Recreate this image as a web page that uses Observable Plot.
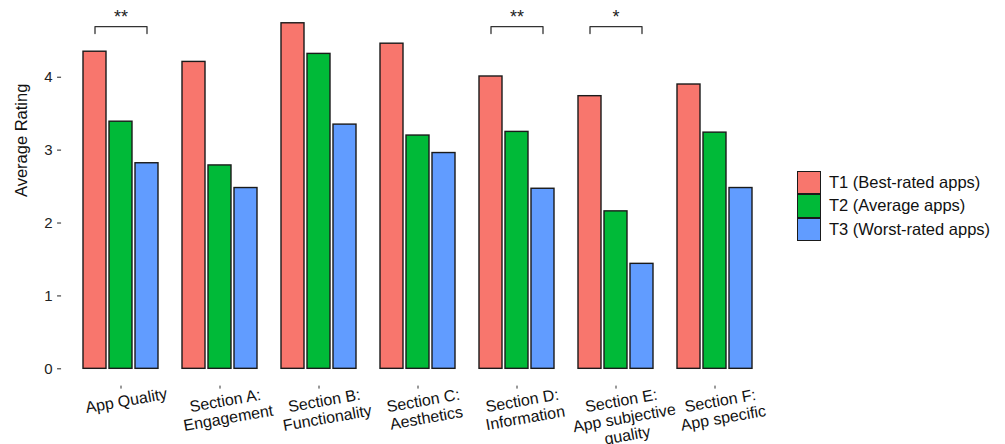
<!DOCTYPE html>
<html>
<head>
<meta charset="utf-8">
<script src="https://cdn.jsdelivr.net/npm/d3@7"></script>
<script src="https://cdn.jsdelivr.net/npm/@observablehq/plot@0.6"></script>
<style>
  body { margin: 0; background: #fff; font-family: "Liberation Sans", Arial, sans-serif; }
  #wrap { position: relative; width: 1005px; height: 444px; }
  #legend { position: absolute; left: 797px; top: 171px; }
  .row { display: flex; align-items: center; height: 23.3px; }
  .key { width: 23.5px; height: 23.3px; box-sizing: border-box; border: 1.4px solid #1a1a1a; }
  .lab { margin-left: 8.5px; font-size: 16.5px; color: #111; white-space: nowrap; }
</style>
</head>
<body>
<div id="wrap"><div id="legend"></div></div>
<script>
// ---- data ----
const categories = ["App Quality", "Section A: Engagement", "Section B: Functionality", "Section C: Aesthetics", "Section D: Information", "Section E: App subjective quality", "Section F: App specific"];
const categoryLabels = ["App Quality", "Section A:\nEngagement", "Section B:\nFunctionality", "Section C:\nAesthetics", "Section D:\nInformation", "Section E:\nApp subjective\nquality", "Section F:\nApp specific"];
const tiers = ["T1", "T2", "T3"];
const tierNames = ["T1 (Best-rated apps)", "T2 (Average apps)", "T3 (Worst-rated apps)"];
const tierColors = ["#F8766D", "#00BA38", "#619CFF"];
const t1Values = [4.35, 4.21, 4.74, 4.46, 4.01, 3.74, 3.90];
const t2Values = [3.39, 2.79, 4.32, 3.20, 3.25, 2.16, 3.24];
const t3Values = [2.82, 2.48, 3.35, 2.96, 2.47, 1.44, 2.48];
const yTicks = [0, 1, 2, 3, 4];
const sigCategories = ["App Quality", "Section D: Information", "Section E: App subjective quality"];
const sigLabels = ["**", "**", "*"];
const bracketTop = 4.695;
const bracketTip = 4.60;
const starLevel = 4.82;
const yTitle = "Average Rating";

// ---- tables ----
const seriesValues = [t1Values, t2Values, t3Values];
const bars = [];
categories.forEach((c, i) => tiers.forEach((t, j) => bars.push({category: c, tier: t, value: seriesValues[j][i]})));
const brackets = [];
sigCategories.forEach(c => {
  brackets.push({category: c, tier: "T1", y: bracketTip}, {category: c, tier: "T1", y: bracketTop},
                {category: c, tier: "T3", y: bracketTop}, {category: c, tier: "T3", y: bracketTip});
});

const font = '"Liberation Sans", Arial, sans-serif';
const chart = Plot.plot({
  width: 1005, height: 444,
  marginLeft: 60, marginRight: 230, marginTop: 5.5, marginBottom: 58.4,
  style: {fontFamily: font, background: "white", overflow: "visible"},
  fx: {domain: categories, paddingInner: 0, paddingOuter: 0.1, label: null},
  x: {domain: tiers, paddingInner: 0.1, paddingOuter: 0.43, axis: null},
  y: {domain: [-0.237, 4.977], label: null},
  color: {domain: tiers, range: tierColors},
  marks: [
    Plot.barY(bars, {fx: "category", x: "tier", y: "value", fill: "tier", stroke: "#1a1a1a", strokeWidth: 1.4}),
    Plot.axisY({ticks: yTicks, tickFormat: d3.format("d"), tickSize: 4, tickPadding: 5, fontSize: 15, color: "#222", label: null, dx: -9.93}),
    Plot.axisFx({anchor: "bottom", tickSize: 3, tickFormat: () => "", label: null, color: "#333"}),
    Plot.text([yTitle], {fx: () => categories[0], text: d => d, frameAnchor: "left", rotate: -90, dx: -49.4, dy: 1, fontSize: 16.5, fill: "#111"}),
    Plot.text(categories, {fx: d => d, text: (d, i) => categoryLabels[i], frameAnchor: "bottom", dy: 7.5, dx: 4, lineAnchor: "top", lineHeight: 1.1, rotate: -10, fontSize: 16, fill: "#111"}),
    Plot.line(brackets, {fx: "category", x: "tier", y: "y", z: "category", stroke: "#333", strokeWidth: 1.3}),
    Plot.text(sigCategories, {fx: d => d, x: () => "T2", y: () => starLevel, text: (d, i) => sigLabels[i], fontSize: 18, fill: "#222"})
  ]
});
document.getElementById("wrap").prepend(chart);

const legend = document.getElementById("legend");
tiers.forEach((t, i) => {
  const row = document.createElement("div");
  row.className = "row";
  const key = document.createElement("div");
  key.className = "key";
  key.style.background = tierColors[i];
  const lab = document.createElement("span");
  lab.className = "lab";
  lab.textContent = tierNames[i];
  row.append(key, lab);
  legend.append(row);
});
</script>
</body>
</html>
